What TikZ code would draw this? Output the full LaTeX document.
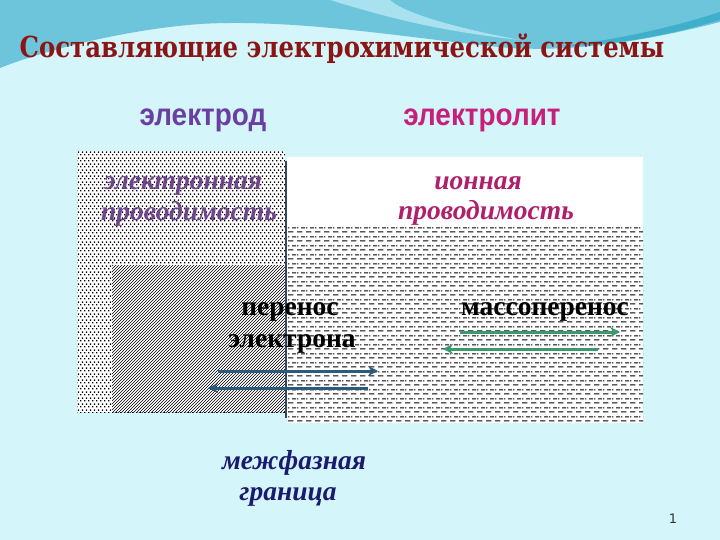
\documentclass[tikz,border=0pt]{standalone}
\usepackage{fontspec}
\setmainfont{Liberation Serif}
\newfontfamily\titlefont{DejaVu Serif}[FakeStretch=0.84]
\newfontfamily\labfont{Liberation Sans}[FakeStretch=0.9]
\newfontfamily\numfont{DejaVu Sans}
\usetikzlibrary{patterns,patterns.meta,arrows.meta}
\definecolor{bgcyan}{HTML}{D4F5FA}
\definecolor{wave1}{HTML}{6CC5DA}
\definecolor{wave2}{HTML}{A9E2EE}
\definecolor{wave3}{HTML}{3FAFCB}
\definecolor{titlered}{HTML}{8B1515}
\definecolor{elpurple}{HTML}{6B3FA0}
\definecolor{elpink}{HTML}{C8207A}
\definecolor{condpurple}{HTML}{6E4589}
\definecolor{condpink}{HTML}{B0206A}
\definecolor{navytext}{HTML}{1A1A6E}
\definecolor{slateline}{HTML}{37475A}
\definecolor{bluearrow}{HTML}{2E5A7A}
\definecolor{greenarrow}{HTML}{3A9A6A}
\tikzdeclarepattern{
  name=hdash,
  type=uncolored,
  bounding box={(0pt,0pt) and (9pt,9pt)},
  tile size={(9pt,9pt)},
  code={
    \fill (0pt,1.8pt) rectangle (6pt,2.9pt);
    \fill (4.5pt,6.3pt) rectangle (9pt,7.4pt);
    \fill (0pt,6.3pt) rectangle (1.5pt,7.4pt);
  }
}
\tikzdeclarepattern{
  name=stagdots,
  type=uncolored,
  bounding box={(0pt,0pt) and (4pt,6pt)},
  tile size={(4pt,6pt)},
  code={
    \fill (0.2pt,0.7pt) rectangle (1.8pt,2.3pt);
    \fill (2.2pt,3.7pt) rectangle (3.8pt,5.3pt);
  }
}
\tikzset{
  titlestyle/.style={font=\titlefont\bfseries\fontsize{29}{34}\selectfont, text=titlered, inner sep=0pt, anchor=base},
  headstyle/.style={font=\labfont\bfseries\fontsize{31}{34}\selectfont, inner sep=0pt, anchor=base},
  condstyle/.style={font=\bfseries\itshape\fontsize{27.5}{30}\selectfont, inner sep=0pt, anchor=base},
  procstyle/.style={font=\bfseries\fontsize{27.5}{30}\selectfont, text=black, inner sep=0pt, anchor=base},
  arrowline/.style={line width=3pt, -{Stealth[length=10pt,width=10pt]}},
}
\begin{document}
\begin{tikzpicture}[x=1pt,y=-1pt]
\useasboundingbox (0,0) rectangle (720,540);
% background
\fill[bgcyan] (0,0) rectangle (720,540);
\fill[wave1] (0,0) -- (720,0) -- (720,22)
  .. controls (650,40) and (580,52) .. (510,48)
  .. controls (420,40) and (300,18) .. (200,24)
  .. controls (120,30) and (40,52) .. (0,68) -- cycle;
\fill[wave2] (330,0) .. controls (380,15) and (430,30) .. (520,40)
  .. controls (440,25) and (400,10) .. (390,0) -- cycle;
\fill[wave3] (560,46) .. controls (620,40) and (680,25) .. (720,12)
  -- (720,20) .. controls (680,32) and (620,46) .. (560,46) -- cycle;
% electrode
\fill[white] (77,151) rectangle (285,412);
\fill[pattern=stagdots] (77,151) rectangle (285,412);
\fill[white] (112,265) rectangle (285,412);
\fill[pattern=north east lines] (112,265) rectangle (285,412);
% electrolyte
\fill[white] (287,157) rectangle (643,423);
\fill[pattern=hdash] (287,225) rectangle (643,423);
% interface
\coordinate (ifTop) at (286,161);
\coordinate (ifBot) at (286,418);
\draw[slateline, line width=2pt] (ifTop) -- (ifBot);
% texts
\node[titlestyle] (title) at (342,58) {Составляющие электрохимической системы};
\node[headstyle, text=elpurple] (electrode) at (203,126) {электрод};
\node[headstyle, text=elpink] (electrolyte) at (482,126) {электролит};
\node[condstyle, text=condpurple] (econd1) at (183,190) {электронная};
\node[condstyle, text=condpurple] (econd2) at (189,221) {проводимость};
\node[condstyle, text=condpink] (icond1) at (478,190) {ионная};
\node[condstyle, text=condpink] (icond2) at (486,220) {проводимость};
\node[procstyle] (et1) at (290,315) {перенос};
\node[procstyle] (et2) at (292,347) {электрона};
\node[procstyle] (mt) at (545,315) {массоперенос};
\node[condstyle, text=navytext] (int1) at (294,469) {межфазная};
\node[condstyle, text=navytext] (int2) at (288,500) {граница};
\node[font=\numfont\fontsize{13}{15}\selectfont, text=black!80, inner sep=0pt, anchor=base] (pagenum) at (673,523) {1};
% arrows
\coordinate (g1s) at (460,332); \coordinate (g1e) at (620,332);
\coordinate (g2s) at (598,349); \coordinate (g2e) at (443,349);
\coordinate (b1s) at (218,371); \coordinate (b1e) at (378,371);
\coordinate (b2s) at (368,388); \coordinate (b2e) at (208,388);
\draw[arrowline, draw=greenarrow, fill=greenarrow] (g1s) -- (g1e);
\draw[arrowline, draw=greenarrow, fill=greenarrow] (g2s) -- (g2e);
\draw[arrowline, draw=bluearrow, fill=bluearrow] (b1s) -- (b1e);
\draw[arrowline, draw=bluearrow, fill=bluearrow] (b2s) -- (b2e);
\end{tikzpicture}
\end{document}
